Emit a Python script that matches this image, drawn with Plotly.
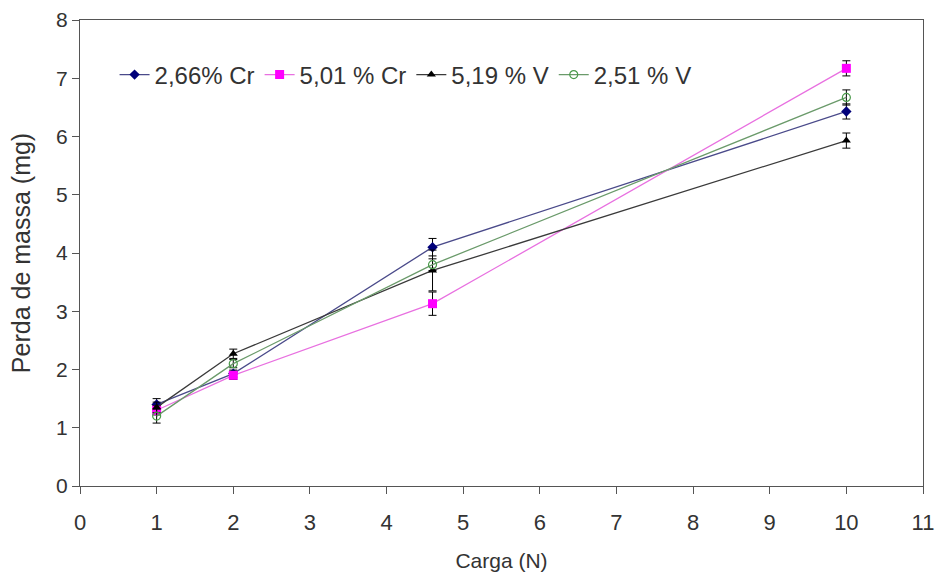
import plotly.graph_objects as go

x = [1, 2, 4.6, 10]
series_names = ["2,66% Cr", "5,01 % Cr", "5,19 % V", "2,51 % V"]
cr266 = [1.40, 1.93, 4.10, 6.43]
cr266_err = [0.10, 0.06, 0.15, 0.13]
cr501 = [1.30, 1.90, 3.13, 7.17]
cr501_err = [0.08, 0.07, 0.20, 0.13]
v519 = [1.35, 2.27, 3.70, 5.93]
v519_err = [0.09, 0.08, 0.35, 0.13]
v251 = [1.20, 2.10, 3.80, 6.67]
v251_err = [0.12, 0.07, 0.10, 0.13]

styles = [
    dict(line="#4a4a8a", marker=dict(symbol="diamond", size=8, color="#00007a")),
    dict(line="#e870e0", marker=dict(symbol="square", size=9, color="#ff00ff")),
    dict(line="#3a3a3a", marker=dict(symbol="triangle-up", size=8, color="#000000")),
    dict(line="#6a9a6a", marker=dict(symbol="circle-open", size=8, color="#4a9a4a",
                                      line=dict(width=1.2))),
]

fig = go.Figure()
for name, ys, errs, st in zip(series_names, [cr266, cr501, v519, v251],
                              [cr266_err, cr501_err, v519_err, v251_err], styles):
    fig.add_trace(go.Scatter(
        x=x, y=ys, name=name, mode="lines+markers",
        line=dict(color=st["line"], width=1.3),
        marker=st["marker"],
        error_y=dict(type="data", array=errs, visible=True, color="#000000",
                     thickness=1, width=4),
    ))

regular = "Liberation Sans, Arial, sans-serif"
fig.update_layout(
    width=938, height=581,
    margin=dict(l=80, r=15, t=20, b=95),
    plot_bgcolor="white", paper_bgcolor="white",
    font=dict(family=regular, size=20, color="#333333"),
    showlegend=True,
    legend=dict(orientation="h", x=0.041, y=0.882, xanchor="left", yanchor="middle",
                bgcolor="rgba(0,0,0,0)", font=dict(family=regular, size=24, color="#333333"),
                itemwidth=30, tracegroupgap=0),
    xaxis=dict(range=[0, 11], tickmode="linear", dtick=1, showgrid=False,
               zeroline=False, showline=True, linecolor="#555555", linewidth=1,
               mirror=True, ticks="outside", ticklen=7, tickcolor="#555555",
               automargin=False, ticklabelstandoff=10,
               tickfont=dict(family=regular, size=22),
               title=dict(text="Carga (N)", standoff=18, font=dict(family=regular, size=21))),
    yaxis=dict(range=[0, 8], tickmode="linear", dtick=1, showgrid=False,
               zeroline=False, showline=True, linecolor="#555555", linewidth=1,
               mirror=True, ticks="outside", ticklen=7, tickcolor="#555555",
               automargin=False,
               tickfont=dict(family=regular, size=21),
               title=dict(text="Perda de massa (mg)", standoff=18, font=dict(family=regular, size=25))),
)
fig.write_html("out.html")
